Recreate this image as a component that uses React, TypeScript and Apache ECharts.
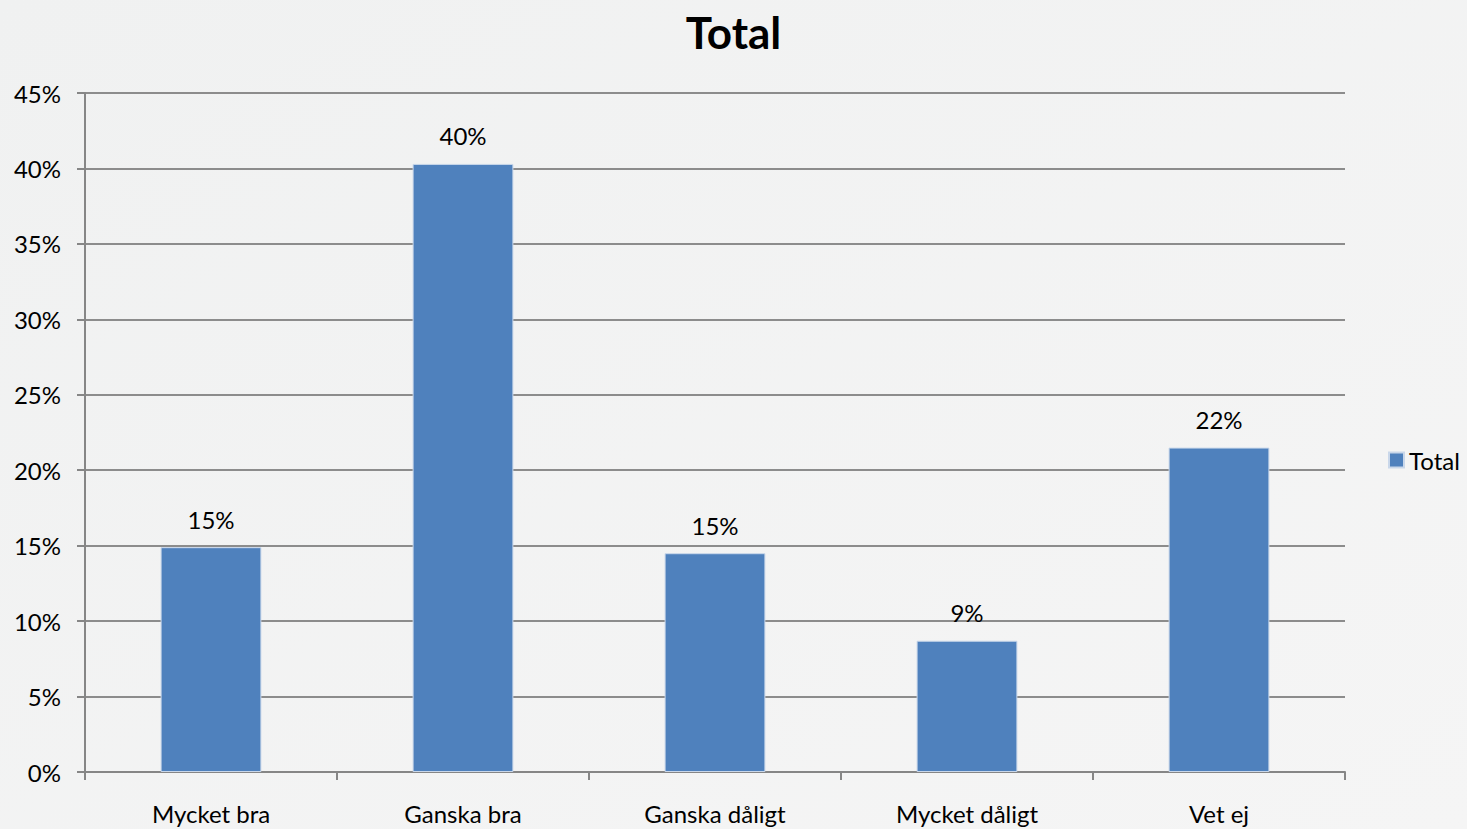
import React, { useEffect, useRef } from "react";
import * as echarts from "echarts";

const categories = ["Mycket bra", "Ganska bra", "Ganska dåligt", "Mycket dåligt", "Vet ej"];
const values = [14.9, 40.3, 14.5, 8.7, 21.5];
const seriesName = "Total";
const titleText = "Total";

export default function App() {
  const ref = useRef<HTMLDivElement>(null);
  useEffect(() => {
    document.body.style.margin = "0";
    const chart = echarts.init(ref.current!, null, { renderer: "svg" });
    const font = "Lato, 'Open Sans', sans-serif";
    chart.setOption({
      animation: false,
      backgroundColor: {
        type: "linear", x: 0, y: 0, x2: 1, y2: 1,
        colorStops: [
          { offset: 0, color: "#f0f1f1" },
          { offset: 1, color: "#f5f5f5" },
        ],
      },
      title: {
        text: titleText,
        left: "center",
        top: 5,
        textStyle: { fontFamily: font, fontSize: 44, fontWeight: "bold", color: "#000" },
      },
      legend: {
        data: [seriesName],
        orient: "vertical",
        left: 1383,
        top: 443,
        itemWidth: 15,
        itemHeight: 15,
        itemGap: 8,
        textStyle: { fontFamily: font, fontSize: 24, color: "#000" },
        icon: "rect",
      },
      grid: { left: 85, right: 122, top: 93, bottom: 57, containLabel: false },
      xAxis: {
        type: "category",
        data: categories,
        axisLine: { lineStyle: { color: "#868686", width: 2 } },
        axisTick: { show: true, length: 8, lineStyle: { color: "#868686", width: 2 } },
        axisLabel: { fontFamily: font, fontSize: 24, color: "#000", margin: 29 },
      },
      yAxis: {
        type: "value",
        min: 0,
        max: 45,
        interval: 5,
        axisLine: { show: true, lineStyle: { color: "#868686", width: 2 } },
        axisTick: { show: true, length: 8, lineStyle: { color: "#868686", width: 2 } },
        splitLine: { lineStyle: { color: "#8c8c8c", width: 2 } },
        axisLabel: {
          fontFamily: font, fontSize: 24, color: "#000", margin: 24,
          formatter: (v: number) => v + "%",
        },
      },
      series: [
        {
          name: seriesName,
          type: "bar",
          data: values,
          barWidth: "40%",
          itemStyle: { color: "#4f81bd", borderColor: "#c9d7ea", borderWidth: 1 },
          label: {
            show: true,
            position: "top",
            distance: 16,
            fontFamily: font,
            fontSize: 24,
            color: "#000",
            formatter: (p: any) => Math.round(p.value) + "%",
          },
        },
      ],
    });
    return () => chart.dispose();
  }, []);
  return <div ref={ref} style={{ position: "absolute", left: 0, top: 0, width: 1467, height: 829 }} />;
}
